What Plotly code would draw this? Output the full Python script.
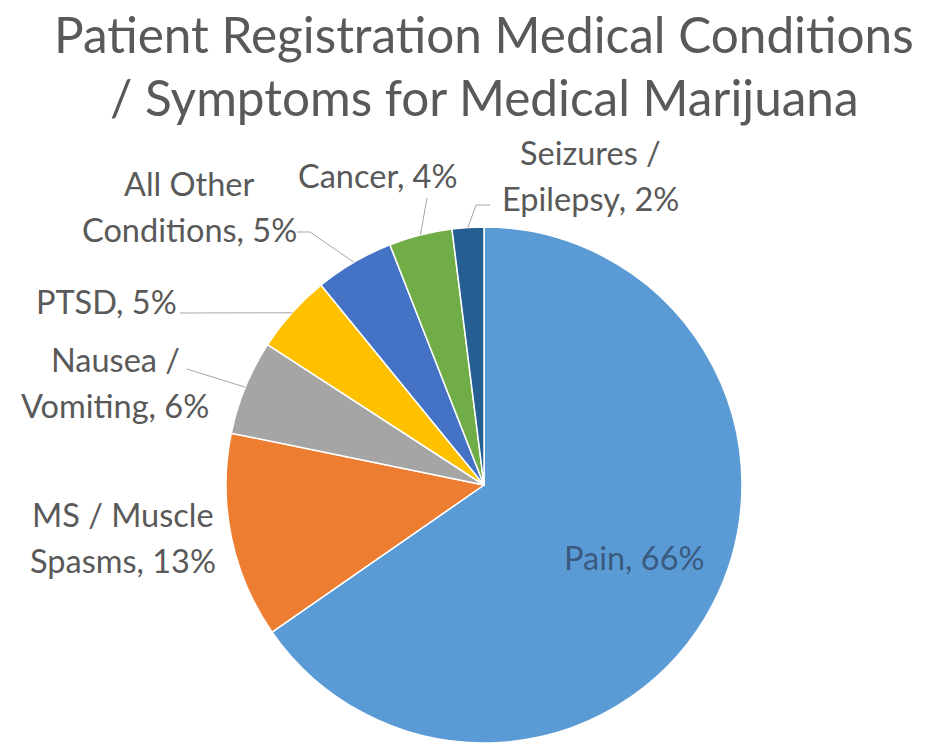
import math
import plotly.graph_objects as go

# Registered conditions and their share of patients (%)
categories = ["Pain", "MS / Muscle Spasms", "Nausea / Vomiting", "PTSD",
              "All Other Conditions", "Cancer", "Seizures / Epilepsy"]
values = [66, 13, 6, 5, 5, 4, 2]
colors = ["#5B9BD5", "#ED7D31", "#A5A5A5", "#FFC000", "#4472C4", "#70AD47", "#255E91"]

# first line of the two-line labels (None = single line)
label_first_line = [None, "MS / Muscle", "Nausea /", None, "All Other", None, "Seizures /"]

title_lines = ["Patient Registration Medical Conditions", "/ Symptoms for Medical Marijuana"]

# ---- layout (pixels, origin top-left) ----
W, H = 942, 745
CX, CY, R = 484, 485, 258
TEXT = "#595959"
TITLE_SIZE = 49.5
LABEL_SIZE = 32.5
LINE_GAP = 46
TITLE_Y = [34, 97]

# label block centres (x, y) in pixels
label_pos = [(634, 557), (123, 537), (115, 382), (106, 301),
             (189, 206), (378, 176), (590, 175)]
# leader start (and optional elbow) points, ending on the slice edge
leader_start = [None, None, [(187, 369)], [(180, 313)],
                [(297, 232), (310, 232)], [(427, 198)], [(490, 205), (476, 205)]]


def px(x):
    return x / W


def py(y):
    return 1 - y / H


fig = go.Figure(go.Pie(
    labels=categories,
    values=values,
    sort=False,
    direction="clockwise",
    rotation=0,
    marker=dict(colors=colors, line=dict(color="white", width=1.5)),
    textinfo="none",
    hoverinfo="label+percent",
    domain=dict(x=[px(CX - R), px(CX + R)], y=[py(CY + R), py(CY - R)]),
    showlegend=False,
))

annotations = []
for i, line in enumerate(title_lines):
    annotations.append(dict(
        text=line, x=px(484), y=py(TITLE_Y[i]), xref="paper", yref="paper",
        xanchor="center", yanchor="middle", showarrow=False, borderpad=0,
        font=dict(family="Lato", size=TITLE_SIZE, color=TEXT)))

shapes = []
total = sum(values)
cum = 0
for i, (cat, val) in enumerate(zip(categories, values)):
    mid = math.radians((cum + val / 2) / total * 360)
    cum += val
    text = f"{cat}, {val}%"
    first = label_first_line[i]
    lines = [text] if first is None else [first, text[len(first):].strip()]
    lx, ly = label_pos[i]
    color = "#3A5A80" if i == 0 else TEXT
    for k, ln in enumerate(lines):
        yy = ly + (k - (len(lines) - 1) / 2) * LINE_GAP
        annotations.append(dict(
            text=ln, x=px(lx), y=py(yy), xref="paper", yref="paper",
            xanchor="center", yanchor="middle", showarrow=False, borderpad=0,
            font=dict(family="Lato", size=LABEL_SIZE, color=color)))
    if leader_start[i]:
        ex = CX + R * math.sin(mid)
        ey = CY - R * math.cos(mid)
        pts = leader_start[i] + [(ex, ey)]
        path = "M " + " L ".join(f"{px(a):.5f},{py(b):.5f}" for a, b in pts)
        shapes.append(dict(type="path", path=path, xref="paper", yref="paper",
                           line=dict(color="#A6A6A6", width=1)))

fig.update_layout(
    width=W, height=H,
    margin=dict(l=0, r=0, t=0, b=0),
    paper_bgcolor="white", plot_bgcolor="white",
    annotations=annotations, shapes=shapes,
)

fig.write_html("out.html")
